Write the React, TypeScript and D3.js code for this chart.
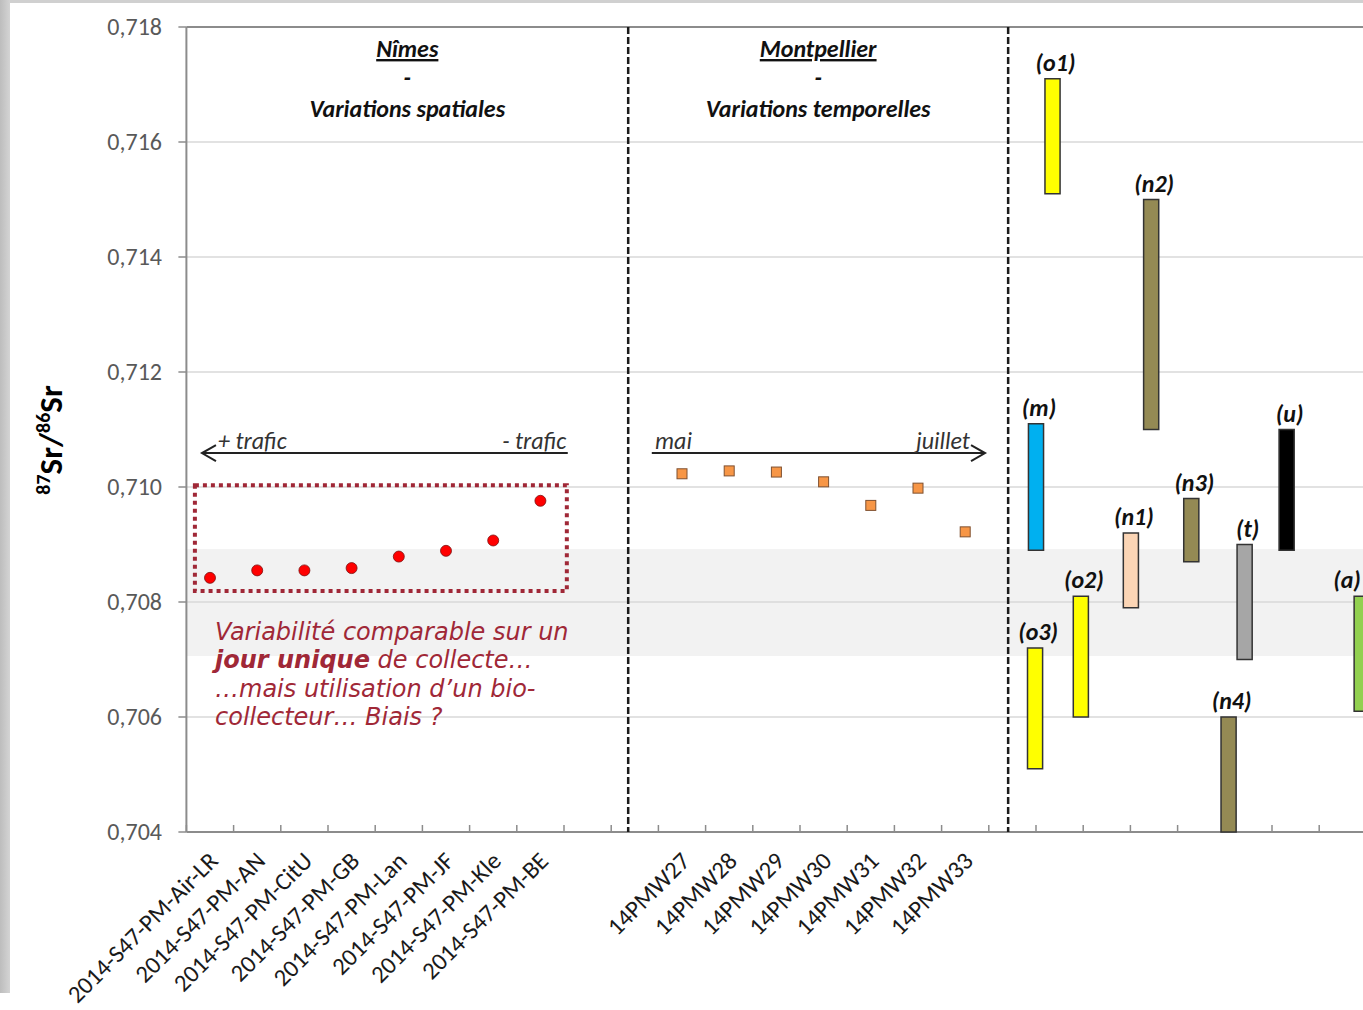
import React from "react";
import * as d3 from "d3";

// Strontium isotope ratios measured at Nîmes (one collection day, several sites)
const nimesSamples = [
  "2014-S47-PM-Air-LR",
  "2014-S47-PM-AN",
  "2014-S47-PM-CitU",
  "2014-S47-PM-GB",
  "2014-S47-PM-Lan",
  "2014-S47-PM-JF",
  "2014-S47-PM-Kle",
  "2014-S47-PM-BE",
];
const nimesRatios = [0.70842, 0.70855, 0.70855, 0.70859, 0.70879, 0.70889, 0.70907, 0.70976];

// Weekly samples at Montpellier (May to July)
const montpellierSamples = ["14PMW27", "14PMW28", "14PMW29", "14PMW30", "14PMW31", "14PMW32", "14PMW33"];
const montpellierRatios = [0.71023, 0.71028, 0.71026, 0.71009, 0.70968, 0.70998, 0.70922];

// Reference source ranges (low / high 87Sr/86Sr) and their slot on the x scale
const sourceKeys = ["m", "o3", "o1", "o2", "n1", "n2", "n3", "n4", "t", "u", "a"];
const sourceSlots = [17.5, 17.48, 17.85, 18.45, 19.51, 19.94, 20.79, 21.58, 21.92, 22.81, 24.4];
const sourceLow = [0.7089, 0.7051, 0.7151, 0.706, 0.7079, 0.711, 0.7087, 0.704, 0.707, 0.7089, 0.7061];
const sourceHigh = [0.7111, 0.7072, 0.7171, 0.7081, 0.7092, 0.715, 0.7098, 0.706, 0.709, 0.711, 0.7081];

// Shaded band of the local background range
const bandLow = 0.70706;
const bandHigh = 0.70892;

const yTicks = [0.704, 0.706, 0.708, 0.71, 0.712, 0.714, 0.716, 0.718];

const sourceFill: Record<string, string> = {
  m: "#00b0f0",
  o1: "#ffff00",
  o2: "#ffff00",
  o3: "#ffff00",
  n1: "#fbd5b5",
  n2: "#948a54",
  n3: "#948a54",
  n4: "#948a54",
  t: "#a6a6a6",
  u: "#000000",
  a: "#92d050",
};

const W = 1363;
const H = 1010;
const CAL = "Carlito, Calibri, Lato, 'Open Sans', sans-serif";
const VERD = "Verdana, 'DejaVu Sans', sans-serif";
const RED = "#a02837";

const frFormat = d3.formatLocale({
  decimal: ",",
  thousands: " ",
  grouping: [3],
  currency: ["", " €"],
}).format(".3f");

export default function App() {
  const y = d3.scaleLinear().domain([0.704, 0.718]).range([832, 27]);
  // one slot per category, 47.2 px apart
  const x = d3.scaleLinear().domain([0, 1]).range([210, 257.2]);
  const left = x(-0.5);
  const right = W + 10;
  const slotTicks = d3.range(-0.5, 25.5, 1);
  const barW = x(0.32) - x(0);

  const nimesSlots = nimesSamples.map((_, i) => i);
  const montSlots = montpellierSamples.map((_, i) => i + 10);
  const separators = [8.86, 16.91];

  const arrowY = y(0.71059);

  const categories = [
    ...nimesSamples.map((s, i) => ({ name: s, slot: nimesSlots[i] })),
    ...montpellierSamples.map((s, i) => ({ name: s, slot: montSlots[i] })),
  ];

  return (
    <svg
      width={W}
      height={H}
      style={{ position: "absolute", left: 0, top: 0, background: "#fff" }}
      fontFamily={CAL}
    >
      <defs>
        <linearGradient id="edge" x1="0" x2="1" y1="0" y2="0">
          <stop offset="0" stopColor="#bdbdbd" />
          <stop offset="1" stopColor="#d4d4d4" />
        </linearGradient>
        <clipPath id="plotClip">
          <rect x={0} y={0} width={W} height={H} />
        </clipPath>
      </defs>
      {/* page frame */}
      <rect x={0} y={0} width={W} height={3} fill="#d0d0d0" />
      <rect x={0} y={0} width={10} height={993} fill="url(#edge)" />

      {/* background band */}
      <rect x={left} y={y(bandHigh)} width={right - left} height={y(bandLow) - y(bandHigh)} fill="#f2f2f2" />

      {/* horizontal gridlines */}
      {yTicks.slice(1, -1).map((t) => (
        <line key={t} x1={left} x2={right} y1={y(t)} y2={y(t)} stroke="#d9d9d9" strokeWidth={1.5} />
      ))}

      {/* plot frame: top border, y axis, x axis */}
      <line x1={left} x2={right} y1={y(0.718)} y2={y(0.718)} stroke="#8c8c8c" strokeWidth={2} />
      <line x1={left} x2={left} y1={y(0.718)} y2={y(0.704)} stroke="#8c8c8c" strokeWidth={2} />
      <line x1={left} x2={right} y1={y(0.704)} y2={y(0.704)} stroke="#8c8c8c" strokeWidth={2} />

      {/* y ticks and labels */}
      {yTicks.map((t) => (
        <g key={t}>
          <line x1={left - 8} x2={left} y1={y(t)} y2={y(t)} stroke="#8c8c8c" strokeWidth={1.5} />
          <text x={162} y={y(t)} dy="0.33em" textAnchor="end" fontSize={24} fill="#595959">
            {frFormat(t)}
          </text>
        </g>
      ))}

      {/* x ticks */}
      {slotTicks.map((s) => (
        <line key={s} x1={x(s)} x2={x(s)} y1={y(0.704) - 7} y2={y(0.704)} stroke="#8c8c8c" strokeWidth={1.5} />
      ))}

      {/* y axis title */}
      <text
        transform={`translate(62,440) rotate(-90)`}
        textAnchor="middle"
        fontSize={33}
        fontWeight="bold"
        fill="#000"
      >
        <tspan fontSize={20} dy={-12}>87</tspan>
        <tspan dy={12}>Sr/</tspan>
        <tspan fontSize={20} dy={-12}>86</tspan>
        <tspan dy={12}>Sr</tspan>
      </text>

      {/* section separators */}
      {separators.map((s) => (
        <line
          key={s}
          x1={x(s)}
          x2={x(s)}
          y1={y(0.718)}
          y2={y(0.704)}
          stroke="#1a1a1a"
          strokeWidth={2.5}
          strokeDasharray="7,3"
        />
      ))}

      {/* section headers */}
      {[
        { cx: (left + x(separators[0])) / 2, city: "Nîmes", sub: "Variations spatiales" },
        { cx: (x(separators[0]) + x(separators[1])) / 2, city: "Montpellier", sub: "Variations temporelles" },
      ].map((h) => (
        <g key={h.city} textAnchor="middle" fontWeight="bold" fontStyle="italic" fontSize={24} fill="#111">
          <text x={h.cx} y={57} textDecoration="underline">
            {h.city}
          </text>
          <text x={h.cx} y={86}>-</text>
          <text x={h.cx} y={117}>{h.sub}</text>
        </g>
      ))}

      {/* trend arrows */}
      <g stroke="#222" strokeWidth={2} fill="none">
        <line x1={x(-0.17)} x2={x(7.58)} y1={arrowY} y2={arrowY} />
        <polyline points={`${x(-0.17) + 14},${arrowY - 8} ${x(-0.17)},${arrowY} ${x(-0.17) + 14},${arrowY + 8}`} />
        <line x1={x(9.36)} x2={x(16.42)} y1={arrowY} y2={arrowY} />
        <polyline points={`${x(16.42) - 14},${arrowY - 8} ${x(16.42)},${arrowY} ${x(16.42) - 14},${arrowY + 8}`} />
      </g>
      <g fontStyle="italic" fontSize={24} fill="#333">
        <text x={x(0.17)} y={arrowY - 4}>+ trafic</text>
        <text x={x(7.55)} y={arrowY - 4} textAnchor="end">- trafic</text>
        <text x={x(9.43)} y={arrowY - 4}>mai</text>
        <text x={x(16.1)} y={arrowY - 4} textAnchor="end">juillet</text>
      </g>

      {/* dotted frame around the Nîmes samples */}
      <rect
        x={x(-0.32)}
        y={y(0.71003)}
        width={x(7.56) - x(-0.32)}
        height={y(0.70819) - y(0.71003)}
        fill="none"
        stroke={RED}
        strokeWidth={4}
        strokeDasharray="4,4"
      />

      {/* Nîmes points */}
      {nimesRatios.map((v, i) => (
        <circle key={i} cx={x(nimesSlots[i])} cy={y(v)} r={5.5} fill="#ff0000" stroke="#7a1010" strokeWidth={0.8} />
      ))}

      {/* Montpellier points */}
      {montpellierRatios.map((v, i) => (
        <rect
          key={i}
          x={x(montSlots[i]) - 5}
          y={y(v) - 5}
          width={10}
          height={10}
          fill="#f79646"
          stroke="#7f5030"
          strokeWidth={1}
        />
      ))}

      {/* source ranges */}
      <g clipPath="url(#plotClip)">
        {sourceKeys.map((k, i) => {
          const cx = x(sourceSlots[i]);
          const top = y(sourceHigh[i]);
          const bottom = y(sourceLow[i]);
          const labelX = Math.min(cx + 3, W - 16);
          return (
            <g key={k}>
              <rect
                x={cx - barW / 2}
                y={top}
                width={barW}
                height={bottom - top}
                fill={sourceFill[k]}
                stroke="#333"
                strokeWidth={1.5}
              />
              <text
                x={labelX}
                y={top - 8}
                textAnchor="middle"
                fontSize={24}
                fontWeight="bold"
                fontStyle="italic"
                fill="#111"
              >
                ({k})
              </text>
            </g>
          );
        })}
      </g>

      {/* comment on the Nîmes variability */}
      <g fontFamily={VERD} fontStyle="italic" fontSize={24} fill={RED}>
        <text x={215} y={640}>Variabilité comparable sur un</text>
        <text x={215} y={668}>
          <tspan fontWeight="bold">jour unique</tspan> de collecte…
        </text>
        <text x={215} y={697}>…mais utilisation d’un bio-</text>
        <text x={215} y={725}>collecteur… Biais ?</text>
      </g>

      {/* category labels */}
      {categories.map((c) => (
        <text
          key={c.name}
          transform={`translate(${x(c.slot) - 2},${851}) rotate(-45)`}
          dy="0.66em"
          textAnchor="end"
          fontSize={24.5}
          fill="#1a1a1a"
        >
          {c.name}
        </text>
      ))}
    </svg>
  );
}
